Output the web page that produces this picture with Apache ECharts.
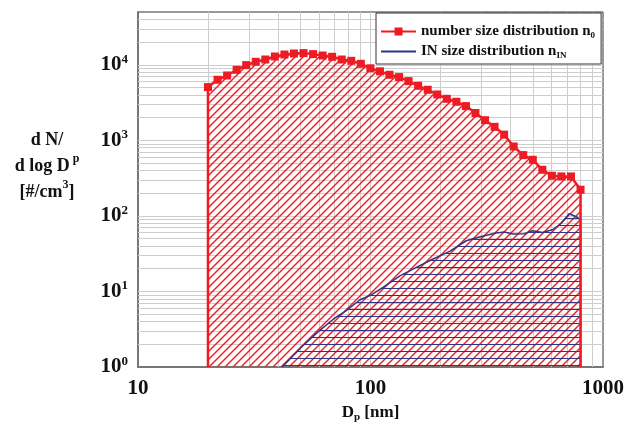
<!DOCTYPE html>
<html><head><meta charset="utf-8">
<script src="https://cdn.jsdelivr.net/npm/echarts@6/dist/echarts.min.js"></script>
<style>html,body{margin:0;padding:0;background:#fff}#c{width:627px;height:428px}</style>
</head><body><div id="c"></div>
<script>
// ---- data ----
const diameters = [20.0, 21.98, 24.17, 26.56, 29.20, 32.10, 35.28, 38.78, 42.63, 46.86,
  51.51, 56.63, 62.24, 68.42, 75.21, 82.67, 90.88, 99.89, 109.8, 120.7,
  132.7, 145.8, 160.3, 176.2, 193.7, 212.9, 234.1, 257.3, 282.8, 310.9,
  341.7, 375.6, 412.9, 453.9, 498.9, 548.4, 602.8, 662.6, 728.4, 800.7];
const numberConc = [5070, 6340, 7220, 8590, 9910, 10960, 11750, 12880, 13690, 14110,
  14280, 13850, 13280, 12760, 11750, 11290, 10310, 8990, 8200, 7380,
  6880, 6080, 5270, 4670, 4050, 3550, 3240, 2840, 2300, 1850,
  1510, 1190, 830, 638, 553, 408, 340, 333, 333, 222];
const inDiameters = [41.7, 50.8, 59.8, 69.4, 77.8, 90.2, 101.2, 113.6, 133.9, 155.3,
  182.9, 219.1, 258.1, 299.4, 347, 376.7, 409, 459, 498, 549, 606, 658, 715, 763, 800.7];
const inConc = [1.0, 1.87, 2.96, 4.32, 5.44, 7.77, 9.05, 11.4, 16.1, 20.4,
  26.3, 33.9, 46.9, 53.5, 59.3, 61.1, 57.5, 58.0, 63.6, 60.4, 65.6, 78.7, 106.7, 98.4, 89];
const xTickValues = [10, 100, 1000];
const xTickLabels = ['10', '100', '1000'];
const yTickValues = [1, 10, 100, 1000, 10000];
const yTickExponents = ['0', '1', '2', '3', '4'];
const xGridValues = [20,30,40,50,60,70,80,90,100,200,300,400,500,600,700,800,900];
const yGridValues = [2,3,4,5,6,7,8,9,10,20,30,40,50,60,70,80,90,100,200,300,400,500,600,700,800,900,
  1000,2000,3000,4000,5000,6000,7000,8000,9000,10000,20000,30000,40000];
const seriesNames = ['number size distribution', 'IN size distribution'];

const X_MIN = 10, X_MAX = 1000, Y_MIN = 1, Y_MAX = 50000;
const RED = '#ed1c24', NAVY = '#2f3580';
const SERIF = '"Liberation Serif", "DejaVu Serif", serif';

// Hatch lines clipped to the area under a curve (pixel points from api.coord)
function hatchPath(pts, bottomY, kind, spacing) {
  const xL = pts[0][0], xR = pts[pts.length - 1][0];
  const top = x => {
    for (let i = 1; i < pts.length; i++) {
      if (x <= pts[i][0]) {
        const dx = pts[i][0] - pts[i - 1][0];
        const t = dx > 0 ? (x - pts[i - 1][0]) / dx : 0;
        return pts[i - 1][1] + t * (pts[i][1] - pts[i - 1][1]);
      }
    }
    return pts[pts.length - 1][1];
  };
  const n = Math.ceil((xR - xL) / 0.25);
  const xs = [], tops = [];
  for (let k = 0; k <= n; k++) { const x = Math.min(xL + k * 0.25, xR); xs.push(x); tops.push(top(x)); }
  const minTop = Math.min.apply(null, pts.map(p => p[1]));
  let d = '';
  const scan = (yOf) => {
    let inSeg = false, sx = 0, sy = 0, px = 0, py = 0;
    for (let k = 0; k < xs.length; k++) {
      const x = xs[k], y = yOf(x);
      const ins = y >= tops[k] - 0.01 && y <= bottomY + 0.01;
      if (ins) { if (!inSeg) { sx = x; sy = y; inSeg = true; } px = x; py = y; }
      else if (inSeg) { d += 'M' + sx.toFixed(2) + ' ' + sy.toFixed(2) + 'L' + px.toFixed(2) + ' ' + py.toFixed(2); inSeg = false; }
    }
    if (inSeg) d += 'M' + sx.toFixed(2) + ' ' + sy.toFixed(2) + 'L' + px.toFixed(2) + ' ' + py.toFixed(2);
  };
  if (kind === 'diag') {
    const c0 = Math.ceil((xL + minTop) / spacing) * spacing;
    for (let c = c0; c <= xR + bottomY; c += spacing) scan(x => c - x);
  } else {
    for (let y = Math.round(bottomY) - 1.5; y >= minTop; y -= spacing) scan(() => y);
  }
  return d;
}

function hatchSeries(name, xs, ys, color, kind, spacing, width, z) {
  return {
    type: 'custom', name: name, z: z, silent: true, clip: true,
    data: [[xs[0], ys[0]]],
    renderItem: (params, api) => {
      const pts = xs.map((x, i) => api.coord([x, ys[i]]));
      const bottomY = api.coord([xs[0], Y_MIN])[1];
      return {
        type: 'path',
        shape: {pathData: hatchPath(pts, bottomY, kind, spacing)},
        style: {stroke: color, fill: 'none', lineWidth: width}
      };
    }
  };
}

const redData = [{value: [diameters[0], Y_MIN], symbol: 'none'}]
  .concat(diameters.map((d, i) => [d, numberConc[i]]))
  .concat([{value: [diameters[diameters.length - 1], Y_MIN], symbol: 'none'}]);
const blueData = inDiameters.map((d, i) => [d, inConc[i]])
  .concat([[inDiameters[inDiameters.length - 1], Y_MIN]]);

const chart = echarts.init(document.getElementById('c'), null, {renderer: 'canvas'});
chart.setOption({
  animation: false,
  backgroundColor: '#fff',
  grid: {left: 138, right: 21, top: 12, bottom: 61, show: true, borderColor: '#333', borderWidth: 1, backgroundColor: 'transparent'},
  xAxis: {
    type: 'log', logBase: 10, min: X_MIN, max: X_MAX,
    axisLine: {show: true, lineStyle: {color: '#777', width: 2}},
    axisTick: {show: false},
    splitLine: {show: false},
    axisLabel: {
      margin: 11,
      formatter: v => { const i = xTickValues.findIndex(t => Math.abs(t - v) / t < 1e-6); return i >= 0 ? xTickLabels[i] : ''; },
      color: '#111', fontFamily: SERIF, fontWeight: 'bold', fontSize: 21
    },
    name: '{t|D}{s|p}{t| [nm]}',
    nameLocation: 'middle', nameGap: 33,
    nameTextStyle: {
      rich: {
        t: {fontFamily: SERIF, fontWeight: 'bold', fontSize: 17, color: '#111', lineHeight: 20},
        s: {fontFamily: SERIF, fontWeight: 'bold', fontSize: 11, color: '#111', verticalAlign: 'bottom', lineHeight: 8}
      }
    }
  },
  yAxis: {
    type: 'log', logBase: 10, min: Y_MIN, max: Y_MAX,
    axisLine: {show: true, lineStyle: {color: '#777', width: 2}},
    axisTick: {show: false},
    splitLine: {show: false},
    axisLabel: {
      margin: 10,
      formatter: v => { const i = yTickValues.findIndex(t => Math.abs(t - v) / t < 1e-6); return i >= 0 ? '{b|10}{e|' + yTickExponents[i] + '}' : ''; },
      rich: {
        b: {fontFamily: SERIF, fontWeight: 'bold', fontSize: 21, color: '#111', lineHeight: 24},
        e: {fontFamily: SERIF, fontWeight: 'bold', fontSize: 13, color: '#111', verticalAlign: 'top', lineHeight: 12}
      }
    }
  },
  graphic: [{
    type: 'text', x: 47, y: 166,
    style: {
      text: '{t|d N/}\n{t|d log D}{p| p}\n{t|[#/cm}{p|3}{t|]}',
      textAlign: 'center', textVerticalAlign: 'middle',
      rich: {
        t: {fontFamily: SERIF, fontWeight: 'bold', fontSize: 18, fill: '#111', lineHeight: 26},
        p: {fontFamily: SERIF, fontWeight: 'bold', fontSize: 12, fill: '#111', verticalAlign: 'top', lineHeight: 18}
      }
    }
  }],
  legend: {
    data: [
      {name: seriesNames[0]},
      {name: seriesNames[1], itemStyle: {color: 'rgba(0,0,0,0)', borderWidth: 0, opacity: 0}}
    ],
    z: 20,
    left: 376, top: 13,
    orient: 'vertical',
    backgroundColor: '#fff', borderColor: '#333', borderWidth: 1, borderRadius: 0,
    padding: [11, 6, 4, 4],
    itemGap: 4, itemWidth: 35, itemHeight: 10,
    formatter: n => n === seriesNames[0] ? '{t|number size distribution n}{s|0}' : '{t|IN size distribution n}{s|IN}',
    textStyle: {
      rich: {
        t: {fontFamily: SERIF, fontWeight: 'bold', fontSize: 15, color: '#111', lineHeight: 17},
        s: {fontFamily: SERIF, fontWeight: 'bold', fontSize: 9, color: '#111', verticalAlign: 'bottom', lineHeight: 8}
      }
    }
  },
  series: [
    {
      type: 'line', name: 'grid', silent: true, z: 1, data: [],
      markLine: {
        silent: true, symbol: 'none', label: {show: false}, animation: false, z: 1,
        lineStyle: {color: '#cdcdcd', type: 'solid', width: 1},
        data: xGridValues.map(v => ({xAxis: v})).concat(yGridValues.map(v => ({yAxis: v})))
      }
    },
    hatchSeries('numberHatch', diameters, numberConc, RED, 'diag', 8, 1.4, 2),
    hatchSeries('inHatch', inDiameters, inConc, NAVY, 'horiz', 7, 1, 3),
    {
      type: 'line', name: seriesNames[0], z: 5, data: redData,
      symbol: 'rect', symbolSize: 8, showSymbol: true,
      itemStyle: {color: RED},
      lineStyle: {color: RED, width: 2.5}
    },
    {
      type: 'line', name: seriesNames[1], z: 4, data: blueData,
      symbol: 'none', showSymbol: false,
      itemStyle: {color: NAVY},
      lineStyle: {color: NAVY, width: 1.5}
    }
  ]
});
</script></body></html>
